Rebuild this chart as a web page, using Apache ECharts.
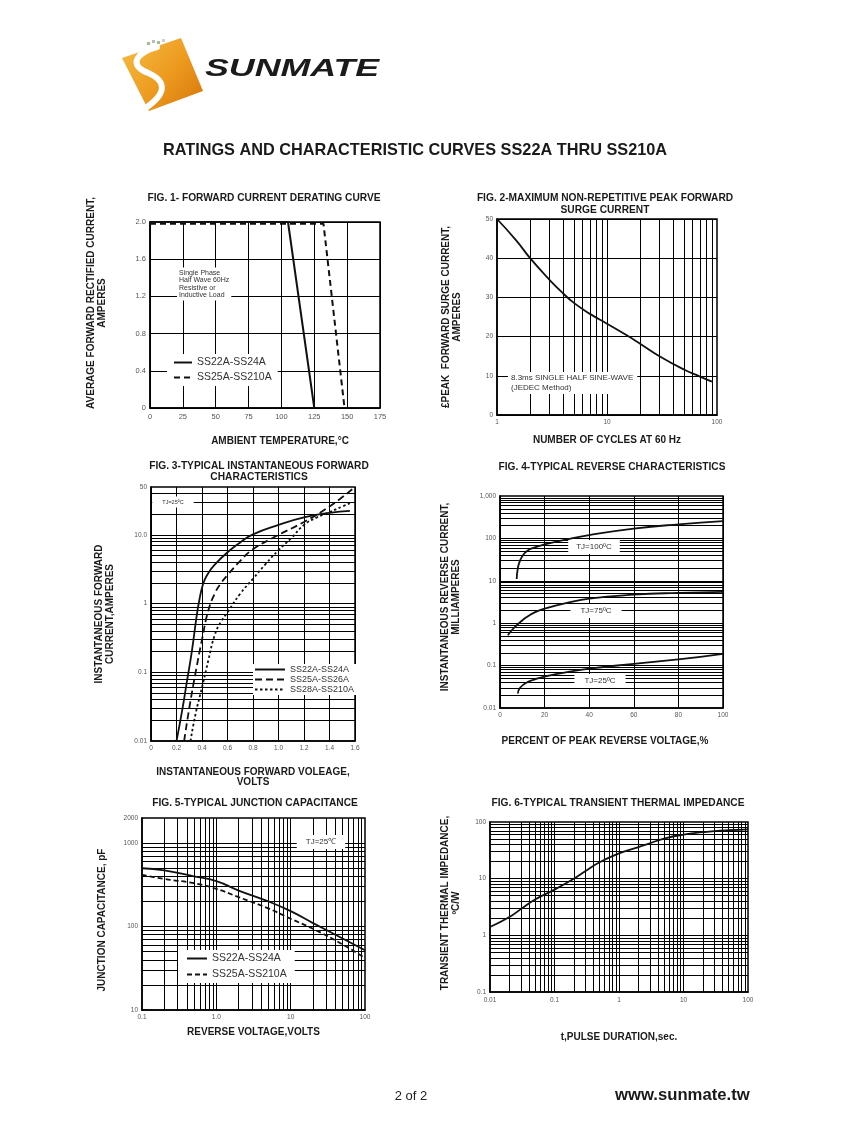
<!DOCTYPE html>
<html><head><meta charset="utf-8">
<script src="https://cdn.jsdelivr.net/npm/echarts@6/dist/echarts.min.js"></script>
<style>html,body{margin:0;padding:0;background:#fff}#c{width:847px;height:1125px}</style>
</head><body><div id="c"></div>
<script>
// ---------------- DATA ----------------
// Fig 1 - forward current derating
const f1TempA = [0, 105, 125];
const f1CurA  = [2.0, 2.0, 0];
const f1TempB = [0, 132, 148];
const f1CurB  = [1.98, 1.98, 0];
const f1Names = ['SS22A-SS24A', 'SS25A-SS210A'];

// Fig 2 - peak forward surge current
const f2Cycles = [1, 1.5, 2, 3, 4, 5, 7, 10, 15, 20, 30, 50, 70, 90];
const f2Amps   = [50, 44.5, 40, 34.5, 31, 28.6, 25.8, 23.3, 20.4, 18.2, 15, 11.6, 9.8, 8.5];

// Fig 3 - forward characteristics
const f3VfA = [0.2, 0.24, 0.28, 0.32, 0.36, 0.38, 0.4, 0.42, 0.45, 0.5, 0.6, 0.7, 0.8, 1.0, 1.2, 1.4, 1.56];
const f3IfA = [0.01, 0.025, 0.07, 0.2, 0.7, 1.15, 1.7, 2.2, 2.8, 3.7, 5.6, 7.8, 10.2, 14, 18, 21, 22.5];
const f3VfB = [0.26, 0.3, 0.35, 0.4, 0.45, 0.5, 0.55, 0.6, 0.7, 0.8, 1.0, 1.2, 1.4, 1.6];
const f3IfB = [0.01, 0.03, 0.1, 0.3, 0.8, 1.4, 2.0, 2.6, 4.2, 6.2, 10, 15.5, 26, 50];
const f3VfC = [0.31, 0.35, 0.4, 0.45, 0.5, 0.55, 0.6, 0.7, 0.8, 0.9, 1.0, 1.1, 1.2, 1.3, 1.4, 1.5, 1.56];
const f3IfC = [0.01, 0.025, 0.06, 0.15, 0.35, 0.55, 0.75, 1.4, 2.3, 3.8, 6, 9, 14, 18, 21.5, 26, 29];
const f3Names = ['SS22A-SS24A', 'SS25A-SS26A', 'SS28A-SS210A'];

// Fig 4 - reverse characteristics
const f4PctA = [7.5, 8, 9, 10, 12, 15, 20, 30, 40, 60, 80, 100];
const f4IrA  = [11, 20, 30, 38, 50, 60, 72, 95, 120, 170, 215, 255];
const f4PctB = [3.5, 6, 9, 12, 16, 20, 30, 40, 60, 80, 100];
const f4IrB  = [0.52, 0.75, 1.05, 1.4, 1.85, 2.2, 3.0, 3.8, 4.7, 5.2, 5.5];
const f4PctC = [8, 9, 12, 16, 20, 30, 40, 60, 80, 100];
const f4IrC  = [0.022, 0.03, 0.04, 0.048, 0.055, 0.07, 0.085, 0.11, 0.14, 0.19];
const f4Labels = ['TJ=100ºC', 'TJ=75ºC', 'TJ=25ºC'];

// Fig 5 - junction capacitance
const f5Volt = [0.1, 0.2, 0.5, 1, 2, 5, 10, 20, 50, 100];
const f5CapA = [500, 470, 400, 350, 270, 200, 153, 110, 72, 52];
const f5CapB = [417, 372, 331, 283, 225, 165, 124, 94, 61, 42];
const f5Names = ['SS22A-SS24A', 'SS25A-SS210A'];

// Fig 6 - transient thermal impedance
const f6Time = [0.01, 0.02, 0.03, 0.05, 0.1, 0.2, 0.3, 0.5, 1, 2, 3, 5, 10, 20, 30, 50, 100];
const f6Zth  = [1.4, 2.1, 2.9, 4.3, 6.4, 10, 13.5, 19.5, 28, 36, 42, 51, 60, 66, 69, 71.5, 74];

// ---------------- HELPERS ----------------
const FONT = '"Liberation Sans", Arial, Helvetica, sans-serif';
const zip = (xs, ys) => xs.map((x, i) => [x, ys[i]]);
const r6 = v => +(+v).toPrecision(6);
function logLines(loExp, hiExp, maxV) {
  const out = [];
  for (let e = loExp; e < hiExp; e++) {
    for (let m = 1; m <= 9; m++) {
      const v = r6(m * Math.pow(10, e));
      if (m === 1 && e === loExp) continue;
      if (maxV === undefined || v < maxV) out.push(v);
    }
  }
  return out;
}
function nameStyle(extra) {
  return Object.assign({ fontFamily: FONT, fontWeight: 'bold', fontSize: 10, color: '#1a1a1a', lineHeight: 11 }, extra || {});
}
function axis(gi, o) {
  return Object.assign({
    gridIndex: gi,
    axisLine: { show: true, lineStyle: { color: '#000', width: 1.5 } },
    axisTick: { show: false },
    axisLabel: { fontSize: 6.5, color: '#555', margin: 4, fontFamily: FONT },
    splitLine: { show: false },
    nameLocation: 'middle'
  }, o);
}
function gridSeries(gi, xs, ys, anchor) {
  return {
    type: 'line', xAxisIndex: gi, yAxisIndex: gi, data: [anchor], symbol: 'none',
    lineStyle: { opacity: 0 }, silent: true, z: 1, animation: false,
    markLine: {
      silent: true, symbol: ['none', 'none'], label: { show: false }, animation: false,
      emphasis: { disabled: true },
      lineStyle: { color: '#000', width: 1, type: 'solid' },
      data: xs.map(v => ({ xAxis: v })).concat(ys.map(v => ({ yAxis: v })))
    }
  };
}
function curve(name, gi, data, type, width, smooth) {
  return {
    name: name, type: 'line', xAxisIndex: gi, yAxisIndex: gi, data: data, symbol: 'none',
    smooth: smooth === undefined ? 0.5 : smooth, z: 5, animation: false,
    itemStyle: { color: '#111' },
    lineStyle: { color: '#111', width: width || 1.8, type: type || 'solid' }
  };
}
function boxTxt(x, y, text, size, align, pad, lh) {
  return {
    type: 'text', x: x, y: y, z: 100,
    style: { text: text, font: size + 'px ' + FONT, fill: '#333', align: align, textAlign: align,
      verticalAlign: 'middle', textVerticalAlign: 'middle', backgroundColor: '#fff', padding: pad,
      lineHeight: lh || Math.round(size * 1.2) }
  };
}
const fmtLog = v => String(r6(v));

// ---------------- OPTION ----------------
const grids = [
  { left: 150, top: 222, width: 230, height: 186 },
  { left: 497, top: 219, width: 220, height: 196 },
  { left: 151, top: 487, width: 204, height: 254 },
  { left: 500, top: 496, width: 223, height: 212 },
  { left: 142, top: 818, width: 223, height: 192 },
  { left: 490, top: 822, width: 258, height: 170 }
].map(g => Object.assign({ show: true, borderColor: '#000', borderWidth: 1.5, backgroundColor: 'rgba(0,0,0,0)' }, g));

const xAxes = [
  axis(0, { type: 'value', min: 0, max: 175, interval: 25, name: 'AMBIENT TEMPERATURE,°C', nameGap: 28,
    nameTextStyle: nameStyle({ padding: [0, 0, 0, 30] }),
    axisLabel: { fontSize: 7.5, color: '#555', margin: 5, fontFamily: FONT },
    splitLine: { show: true, lineStyle: { color: '#000', width: 1 } } }),
  axis(1, { type: 'log', logBase: 10, min: 1, max: 100, name: 'NUMBER OF CYCLES AT 60 Hz', nameGap: 20,
    nameTextStyle: nameStyle(), axisLabel: { fontSize: 6.5, color: '#555', margin: 4, fontFamily: FONT, formatter: fmtLog } }),
  axis(2, { type: 'value', min: 0, max: 1.6, interval: 0.2, name: 'INSTANTANEOUS FORWARD VOLEAGE,\nVOLTS', nameGap: 26,
    nameTextStyle: nameStyle({ lineHeight: 10 }),
    axisLabel: { fontSize: 6.5, color: '#555', margin: 4, fontFamily: FONT, formatter: v => r6(v) === 0 ? '0' : r6(v).toFixed(1) },
    splitLine: { show: true, lineStyle: { color: '#000', width: 1 } } }),
  axis(3, { type: 'value', min: 0, max: 100, interval: 20, name: 'PERCENT OF PEAK REVERSE VOLTAGE,%', nameGap: 28,
    nameTextStyle: nameStyle({ padding: [0, 13, 0, 0] }),
    splitLine: { show: true, lineStyle: { color: '#000', width: 1 } } }),
  axis(4, { type: 'log', logBase: 10, min: 0.1, max: 100, name: 'REVERSE VOLTAGE,VOLTS', nameGap: 17,
    nameTextStyle: nameStyle(), axisLabel: { fontSize: 6.5, color: '#555', margin: 4, fontFamily: FONT, formatter: v => r6(v) === 1 ? '1.0' : fmtLog(v) } }),
  axis(5, { type: 'log', logBase: 10, min: 0.01, max: 100, name: 't,PULSE DURATION,sec.', nameGap: 40,
    nameTextStyle: nameStyle(), axisLabel: { fontSize: 6.5, color: '#555', margin: 5, fontFamily: FONT, formatter: fmtLog } })
];

const yAxes = [
  axis(0, { type: 'value', min: 0, max: 2, interval: 0.4, name: 'AVERAGE FORWARD RECTIFIED CURRENT,\nAMPERES',
    nameRotate: 90, nameGap: 42, nameTextStyle: nameStyle({ padding: [0, 0, 0, 24] }),
    axisLabel: { fontSize: 7.5, color: '#555', margin: 4, fontFamily: FONT, formatter: v => r6(v) === 0 ? '0' : r6(v).toFixed(1) },
    splitLine: { show: true, lineStyle: { color: '#000', width: 1 } } }),
  axis(1, { type: 'value', min: 0, max: 50, interval: 10, name: '£PEAK  FORWARD SURGE CURRENT,\nAMPERES',
    nameRotate: 90, nameGap: 34, nameTextStyle: nameStyle(),
    splitLine: { show: true, lineStyle: { color: '#000', width: 1 } } }),
  axis(2, { type: 'log', logBase: 10, min: 0.01, max: 50, name: 'INSTANTANEOUS FORWARD\nCURRENT,AMPERES',
    nameRotate: 90, nameGap: 35, nameTextStyle: nameStyle(),
    axisLabel: { fontSize: 6.5, color: '#555', margin: 4, fontFamily: FONT, formatter: v => r6(v) === 10 ? '10.0' : fmtLog(v) } }),
  axis(3, { type: 'log', logBase: 10, min: 0.01, max: 1000, name: 'INSTANTANEOUS REVERSE CURRENT,\nMILLIAMPERES',
    nameRotate: 90, nameGap: 38, nameTextStyle: nameStyle({ padding: [0, 0, 0, 10] }),
    axisLabel: { fontSize: 6.5, color: '#555', margin: 4, fontFamily: FONT, formatter: v => r6(v).toLocaleString('en-US') } }),
  axis(4, { type: 'log', logBase: 10, min: 10, max: 2000, name: 'JUNCTION CAPACITANCE, pF',
    nameRotate: 90, nameGap: 34, nameTextStyle: nameStyle({ padding: [0, 12, 0, 0] }),
    axisLabel: { fontSize: 6.5, color: '#555', margin: 4, fontFamily: FONT, formatter: fmtLog } }),
  axis(5, { type: 'log', logBase: 10, min: 0.1, max: 100, name: 'TRANSIENT THERMAL IMPEDANCE,\nºC/W',
    nameRotate: 90, nameGap: 28, nameTextStyle: nameStyle({ padding: [0, 0, 0, 8] }),
    axisLabel: { fontSize: 6.5, color: '#555', margin: 4, fontFamily: FONT, formatter: fmtLog } })
];

const series = [
  gridSeries(1, logLines(0, 2), [], [1, 50]),
  gridSeries(2, [], logLines(-2, 2, 50), [0.2, 0.01]),
  gridSeries(3, [], logLines(-2, 3), [0, 0.01]),
  gridSeries(4, logLines(-1, 2), logLines(1, 4, 2000), [0.1, 10]),
  gridSeries(5, logLines(-2, 2), logLines(-1, 2), [0.01, 0.1]),
  curve('1:' + f1Names[0], 0, zip(f1TempA, f1CurA), 'solid', 2, false),
  curve('1:' + f1Names[1], 0, zip(f1TempB, f1CurB), [6, 4], 2, false),
  curve('2:peak', 1, zip(f2Cycles, f2Amps), 'solid', 1.8),
  curve('3:' + f3Names[0], 2, zip(f3VfA, f3IfA), 'solid', 1.8),
  curve('3:' + f3Names[1], 2, zip(f3VfB, f3IfB), [7, 4], 1.8),
  curve('3:' + f3Names[2], 2, zip(f3VfC, f3IfC), [2.5, 2.5], 1.8),
  curve('4:' + f4Labels[0], 3, zip(f4PctA, f4IrA), 'solid', 1.8),
  curve('4:' + f4Labels[1], 3, zip(f4PctB, f4IrB), 'solid', 1.8),
  curve('4:' + f4Labels[2], 3, zip(f4PctC, f4IrC), 'solid', 1.8),
  curve('5:' + f5Names[0], 4, zip(f5Volt, f5CapA), 'solid', 1.8),
  curve('5:' + f5Names[1], 4, zip(f5Volt, f5CapB), [5, 3], 1.8),
  curve('6:zth', 5, zip(f6Time, f6Zth), 'solid', 1.8)
];

const legendBase = {
  orient: 'vertical', selectedMode: false, backgroundColor: '#fff', z: 20,
  itemStyle: { opacity: 0, borderWidth: 0 },
  formatter: n => n.slice(2), textStyle: { fontFamily: FONT, color: '#333', fontSize: 10 }
};
const legends = [
  Object.assign({}, legendBase, { left: 167, top: 354, padding: [3, 6, 3, 6], itemWidth: 18, itemHeight: 10, itemGap: 4,
    data: f1Names.map(n => '1:' + n), textStyle: { fontFamily: FONT, color: '#333', fontSize: 10.5 } }),
  Object.assign({}, legendBase, { left: 253, top: 664, padding: [1, 3, 1, 1], itemWidth: 30, itemHeight: 9, itemGap: 1,
    data: f3Names.map(n => '3:' + n), textStyle: { fontFamily: FONT, color: '#333', fontSize: 9 } }),
  Object.assign({}, legendBase, { left: 178, top: 950, padding: [3, 8, 3, 8], itemWidth: 20, itemHeight: 10, itemGap: 5,
    data: f5Names.map(n => '5:' + n), textStyle: { fontFamily: FONT, color: '#333', fontSize: 10.5 } })
];

const T = (x, y, text, size, weight, align, extra) => ({
  type: 'text', x: x, y: y, z: 100,
  style: Object.assign({ text: text, font: (weight ? weight + ' ' : '') + size + 'px ' + FONT, fill: '#1a1a1a',
    align: align || 'center', textAlign: align || 'center', verticalAlign: 'middle', textVerticalAlign: 'middle' }, extra || {})
});

const logoGrad = new echarts.graphic.LinearGradient(0, 0, 1, 1, [
  { offset: 0, color: '#f6bd45' }, { offset: 0.55, color: '#ec9a1e' }, { offset: 1, color: '#d6740c' }
]);
const sStroke = { fill: 'none', stroke: '#fff', lineWidth: 6, lineCap: 'round' };

const graphics = [
  // logo
  { type: 'polygon', z: 100, shape: { points: [[122, 58], [181, 38], [203, 91], [149, 111]] }, style: { fill: logoGrad } },
  { type: 'bezierCurve', z: 101, shape: { x1: 157, y1: 47, cpx1: 138, cpy1: 52, cpx2: 128, cpy2: 64, x2: 146, y2: 72 }, style: sStroke },
  { type: 'bezierCurve', z: 101, shape: { x1: 146, y1: 72, cpx1: 166, cpy1: 80, cpx2: 168, cpy2: 92, x2: 147, y2: 107 }, style: sStroke },
  { type: 'rect', z: 101, shape: { x: 147, y: 42, width: 3, height: 3 }, style: { fill: '#9cc28a' } },
  { type: 'rect', z: 101, shape: { x: 152, y: 40, width: 3, height: 3 }, style: { fill: '#bcbcbc' } },
  { type: 'rect', z: 101, shape: { x: 157, y: 41, width: 3, height: 3 }, style: { fill: '#9cc28a' } },
  { type: 'rect', z: 101, shape: { x: 162, y: 39, width: 3, height: 3 }, style: { fill: '#d0d0d0' } },
  { type: 'text', z: 100, x: 205, y: 69, scaleX: 1.49,
    style: { text: 'SUNMATE', font: 'italic 900 24px ' + FONT, fill: '#1b1b1b', align: 'left', textAlign: 'left',
      verticalAlign: 'middle', textVerticalAlign: 'middle' } },
  // main title
  T(415, 151, 'RATINGS AND CHARACTERISTIC CURVES SS22A THRU SS210A', 16.3, 'bold'),
  // figure titles
  T(264, 198, 'FIG. 1- FORWARD CURRENT DERATING CURVE', 10.2, 'bold'),
  T(605, 204, 'FIG. 2-MAXIMUM NON-REPETITIVE PEAK FORWARD\nSURGE CURRENT', 10.2, 'bold', 'center', { lineHeight: 12 }),
  T(259, 471.5, 'FIG. 3-TYPICAL INSTANTANEOUS FORWARD\nCHARACTERISTICS', 10.2, 'bold', 'center', { lineHeight: 11 }),
  T(612, 467, 'FIG. 4-TYPICAL REVERSE CHARACTERISTICS', 10.2, 'bold'),
  T(255, 803, 'FIG. 5-TYPICAL JUNCTION CAPACITANCE', 10.2, 'bold'),
  T(618, 803, 'FIG. 6-TYPICAL TRANSIENT THERMAL IMPEDANCE', 10.2, 'bold'),
  // in-plot notes
  boxTxt(177, 284, 'Single Phase\nHalf Wave 60Hz\nResistive or\nInductive Load', 7, 'left', [1, 2, 2, 2], 7.5),
  boxTxt(508, 383, '8.3ms SINGLE HALF SINE-WAVE\n(JEDEC Method)', 8, 'left', [1, 4, 1, 3], 10),
  boxTxt(173, 502, 'TJ=25ºC', 5.5, 'center', [2, 10, 2, 10]),
  boxTxt(594, 547, f4Labels[0], 8, 'center', [2, 8, 2, 8]),
  boxTxt(596, 611, f4Labels[1], 8, 'center', [2, 10, 2, 10]),
  boxTxt(600, 681, f4Labels[2], 8, 'center', [2, 10, 2, 10]),
  boxTxt(321, 842, 'TJ=25℃', 8, 'center', [2, 9, 2, 9]),
  // footer
  T(411, 1096, '2 of 2', 13, '', 'center', { fill: '#222' }),
  T(615, 1095, 'www.sunmate.tw', 16.7, 'bold', 'left', { fill: '#1a1a1a' })
];

const chart = echarts.init(document.getElementById('c'), null, { renderer: 'canvas', width: 847, height: 1125 });
chart.setOption({
  backgroundColor: '#fff',
  animation: false,
  textStyle: { fontFamily: FONT },
  grid: grids,
  xAxis: xAxes,
  yAxis: yAxes,
  legend: legends,
  series: series,
  graphic: { elements: graphics }
});
</script></body></html>
